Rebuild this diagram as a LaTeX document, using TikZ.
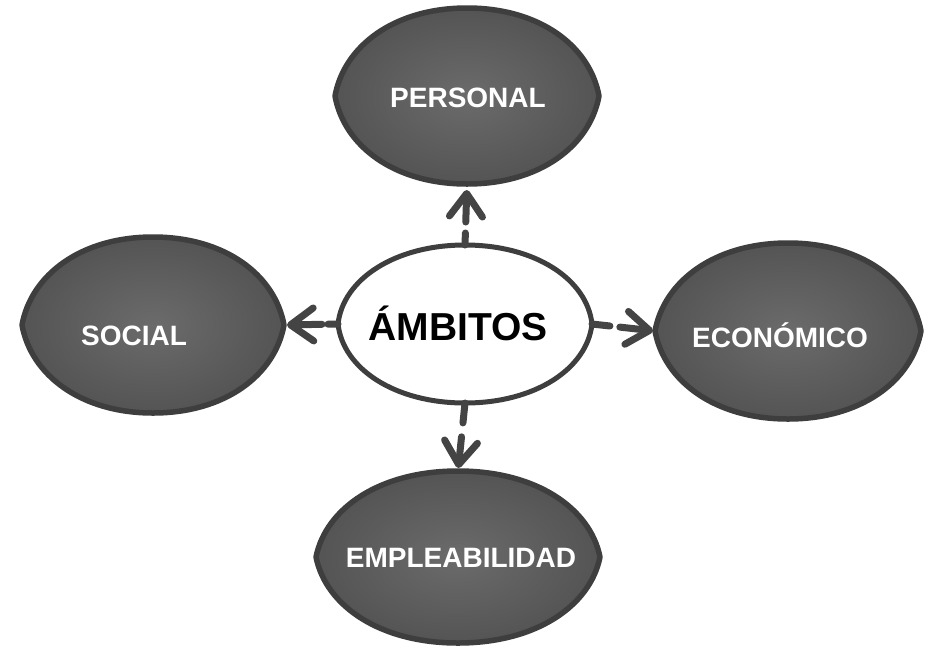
\documentclass[tikz,border=0pt]{standalone}
\usepackage{fontspec}
\setmainfont{Liberation Sans}
\usetikzlibrary{arrows.meta,calc,shapes.geometric}
\definecolor{edgecol}{HTML}{3E3E3E}
\definecolor{fillin}{HTML}{6B6B6B}
\definecolor{fillout}{HTML}{545454}
\definecolor{conncol}{HTML}{444444}
% style, name, a, b, pointiness
\newcommand\lemon[5]{%
  \path[#1] (#2.west) .. controls +({#5*#3},{-0.57*#4}) and +({-0.55*#3},0) .. (#2.north)
  .. controls +({0.55*#3},0) and +({-#5*#3},{-0.57*#4}) .. (#2.east)
  .. controls +({-#5*#3},{0.57*#4}) and +({0.55*#3},0) .. (#2.south)
  .. controls +({-0.55*#3},0) and +({#5*#3},{0.57*#4}) .. (#2.west) -- cycle;}
\begin{document}
\begin{tikzpicture}[x=1pt,y=-1pt,
  anch/.style={ellipse, inner sep=0pt, outer sep=0pt, draw=none},
  darkblob/.style={shade, inner color=fillin, outer color=fillout, draw=edgecol, line width=5.5pt, line join=round},
  whiteblob/.style={fill=white, draw=edgecol, line width=5pt, line join=round},
  lbl/.style={text=white, font=\bfseries\fontsize{28}{30}\selectfont, anchor=base, inner sep=0pt},
  conn/.style={draw=conncol, line width=7pt, line cap=round, line join=round},
  arr/.style={conn, -{Straight Barb[length=23pt,width=33pt,line cap=round,line join=round]}}]
\useasboundingbox (0,0) rectangle (925,646);
% anchor shapes
\node[anch, minimum width=264pt, minimum height=176pt] (per) at (467,96) {};
\node[anch, minimum width=262pt, minimum height=176pt] (soc) at (153,325) {};
\node[anch, minimum width=266pt, minimum height=176pt] (eco) at (788,331) {};
\node[anch, minimum width=284pt, minimum height=172pt] (emp) at (458,557) {};
\node[anch, minimum width=254pt, minimum height=158pt] (amb) at (465,324) {};
% shapes
\lemon{darkblob}{per}{132}{88}{0.07}
\lemon{darkblob}{soc}{131}{88}{0.07}
\lemon{darkblob}{eco}{133}{88}{0.07}
\lemon{darkblob}{emp}{142}{86}{0.07}
\lemon{whiteblob}{amb}{127}{79}{0.04}
% connectors: short stubs
\draw[conn] (amb.north) -- ($(amb.north)!12pt!(per.south)$);
\draw[conn] (amb.east) -- ($(amb.east)!18pt!(eco.west)$);
\draw[conn] (amb.west) -- ($(amb.west)!10pt!(soc.east)$);
\draw[conn] (amb.south) -- ($(amb.south)!20pt!(emp.north)$);
% connectors: arrows
\draw[arr, shorten <=23pt, shorten >=6pt] (amb.north) -- (per.south);
\draw[arr, shorten <=28pt, shorten >=2pt] (amb.east) -- (eco.west);
\draw[arr, shorten <=16pt, shorten >=3pt] (amb.west) -- (soc.east);
\draw[arr, shorten <=34pt, shorten >=3pt] (amb.south) -- (emp.north);
% texts
\node[lbl] (perT) at (468,107) {PERSONAL};
\node[lbl] (socT) at (134,345) {SOCIAL};
\node[lbl] (ecoT) at (780,347) {ECONÓMICO};
\node[lbl] (empT) at (461,567) {EMPLEABILIDAD};
\node[lbl, text=black, font=\bfseries\fontsize{39}{42}\selectfont] (ambT) at (458,340) {ÁMBITOS};
\end{tikzpicture}
\end{document}
